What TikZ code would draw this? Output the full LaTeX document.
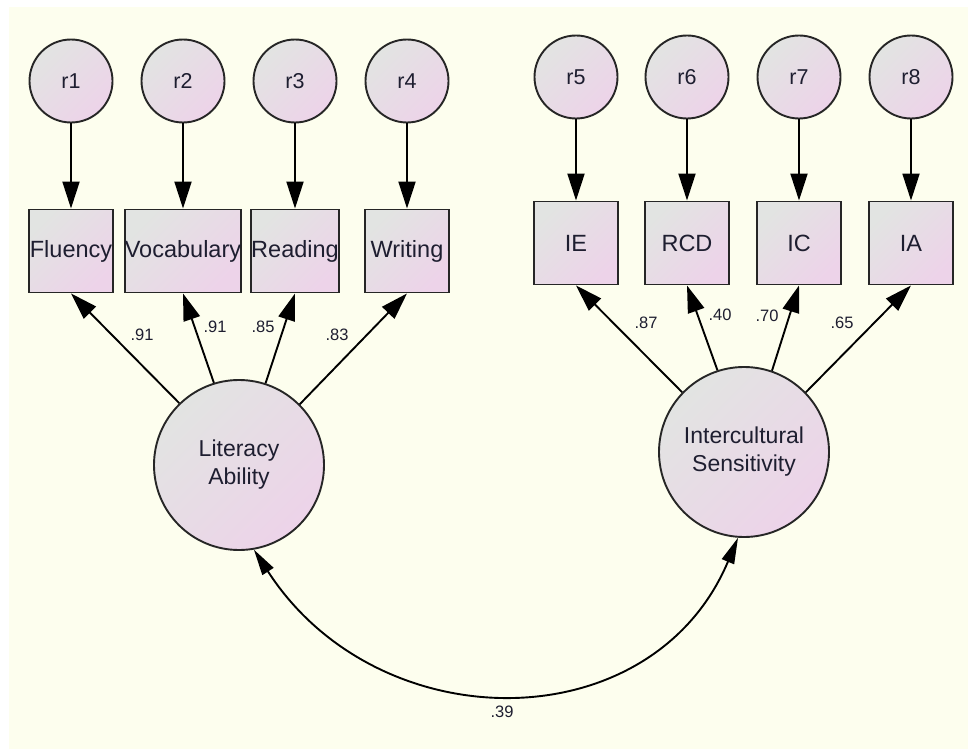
\documentclass[tikz,border=0pt]{standalone}
\usepackage{fontspec}
\setmainfont{Liberation Sans}
\usetikzlibrary{arrows.meta}
\definecolor{bgc}{RGB}{253,254,238}
\definecolor{ga}{RGB}{226,228,226}
\definecolor{gb}{RGB}{237,211,233}
\definecolor{txc}{RGB}{30,30,48}
\tikzset{
  nodefill/.style={shade, top color=ga, bottom color=gb, shading angle=45, draw=black!85, line width=1.9pt, text=txc},
  errc/.style={nodefill, circle, minimum size=83pt, inner sep=0pt, font=\fontsize{21.5}{25}\selectfont},
  obsbox/.style={nodefill, rectangle, minimum width=84pt, minimum height=83pt, inner sep=0pt, font=\fontsize{23.5}{26}\selectfont},
  latc/.style={nodefill, circle, minimum size=170pt, inner sep=0pt, align=center, font=\fontsize{23}{28}\selectfont},
  loadlbl/.style={text=txc, inner sep=0pt, font=\fontsize{16.5}{18}\selectfont},
  arr/.style={draw=black, line width=1.9pt, -{Triangle[length=27pt,width=17pt]}},
  covarr/.style={draw=black, line width=1.9pt, {Triangle[length=26pt,width=13pt]}-{Triangle[length=26pt,width=13pt]}}
}
\begin{document}
\begin{tikzpicture}[x=1pt,y=-1pt]
\useasboundingbox (0,0) rectangle (968,749);
\fill[white] (0,0) rectangle (968,749);
\fill[bgc] (9,7) rectangle (968,749);
% error terms left
\node[errc] (r1) at (71,81) {r1};
\node[errc] (r2) at (183,81) {r2};
\node[errc] (r3) at (295,81) {r3};
\node[errc] (r4) at (407,81) {r4};
% observed left
\node[obsbox] (flu) at (71,251) {Fluency};
\node[obsbox] (voc) at (183,251) {Vocabulary};
\node[obsbox] (rea) at (295,251) {Reading};
\node[obsbox] (wri) at (407,251) {Writing};
% error terms right
\node[errc] (r5) at (576,77) {r5};
\node[errc] (r6) at (687,77) {r6};
\node[errc] (r7) at (799,77) {r7};
\node[errc] (r8) at (911,77) {r8};
% observed right
\node[obsbox] (ie) at (576,243) {IE};
\node[obsbox] (rcd) at (687,243) {RCD};
\node[obsbox] (ic) at (799,243) {IC};
\node[obsbox] (ia) at (911,243) {IA};
% latent
\node[latc] (lit) at (239,465) {Literacy\\Ability};
\node[latc] (ics) at (744,452) {Intercultural\\Sensitivity};
% error arrows
\draw[arr] (r1) -- (flu);
\draw[arr] (r2) -- (voc);
\draw[arr] (r3) -- (rea);
\draw[arr] (r4) -- (wri);
\draw[arr] (r5) -- (ie);
\draw[arr] (r6) -- (rcd);
\draw[arr] (r7) -- (ic);
\draw[arr] (r8) -- (ia);
% loadings
\draw[arr] (lit.134.5) -- (flu.south);
\draw[arr] (lit.107.5) -- (voc.south);
\draw[arr] (lit.72) -- (rea.south);
\draw[arr] (lit.45.5) -- (wri.south);
\draw[arr] (ics.136) -- (ie.south);
\draw[arr] (ics.108.5) -- (rcd.south);
\draw[arr] (ics.71.5) -- (ic.south);
\draw[arr] (ics.44.5) -- (ia.south);
% loading labels
\node[loadlbl] (l1) at (142,335) {.91};
\node[loadlbl] (l2) at (215,327) {.91};
\node[loadlbl] (l3) at (263,327) {.85};
\node[loadlbl] (l4) at (337,335) {.83};
\node[loadlbl] (l5) at (646,323) {.87};
\node[loadlbl] (l6) at (720,315) {.40};
\node[loadlbl] (l7) at (767,316) {.70};
\node[loadlbl] (l8) at (842,323) {.65};
% covariance
\draw[covarr] (lit.-80) .. controls (378,742) and (652,742) .. (ics.-94);
\node[loadlbl] (cv) at (502,712) {.39};
\end{tikzpicture}
\end{document}
